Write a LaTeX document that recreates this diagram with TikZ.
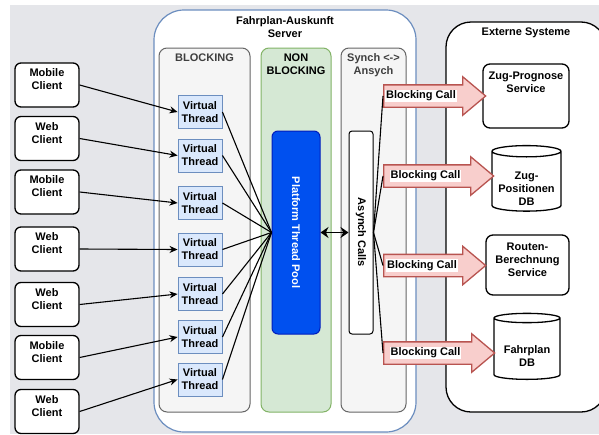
\documentclass[tikz,border=0pt]{standalone}
\usepackage{fontspec}
\setmainfont{Liberation Sans}
\usetikzlibrary{arrows.meta,positioning,shapes.geometric,shapes.arrows}

\definecolor{backgray}{HTML}{E5E6EA}
\definecolor{serverline}{HTML}{6C8EBF}
\definecolor{lanegray}{HTML}{F5F5F5}
\definecolor{laneline}{HTML}{666666}
\definecolor{titlegray}{HTML}{3F3F3F}
\definecolor{greenfill}{HTML}{D5E8D4}
\definecolor{greenline}{HTML}{82B366}
\definecolor{poolfill}{HTML}{0050EF}
\definecolor{poolline}{HTML}{001DBC}
\definecolor{vtfill}{HTML}{DAE8FC}
\definecolor{callfill}{HTML}{F8CECC}
\definecolor{callline}{HTML}{B85450}

\tikzstyle{client} = [
  draw,
  rectangle,
  rounded corners=6pt,
  line width=1.3pt,
  fill=white,
  minimum width=64pt,
  minimum height=44pt,
  text depth=11pt,
  align=center,
]
\tikzstyle{vthread} = [
  draw=serverline,
  fill=vtfill,
  rectangle,
  line width=0.9pt,
  minimum width=44pt,
  minimum height=33pt,
  inner sep=0pt,
  align=center,
]
\tikzstyle{lane} = [
  draw=laneline,
  fill=lanegray,
  rectangle,
  rounded corners=8pt,
  line width=1pt,
  minimum height=364pt,
]
\tikzstyle{lanetitle} = [
  inner sep=0pt,
  align=center,
]
\tikzstyle{flow} = [
  line width=1.1pt,
  -{Stealth[length=8pt,width=7pt]},
]
\tikzstyle{link} = [
  line width=1.1pt,
]
\tikzstyle{blockcall} = [
  single arrow,
  draw=callline,
  fill=callfill,
  line width=1.3pt,
  text height=21pt,
  text depth=0pt,
  inner xsep=0pt,
  inner ysep=0pt,
  single arrow head extend=8pt,
  single arrow tip angle=80,
  anchor=tail,
]
\tikzstyle{calltext} = [
  fill=white,
  inner sep=1pt,
]
\tikzstyle{extbox} = [
  draw,
  rectangle,
  rounded corners=7pt,
  line width=1.3pt,
  fill=white,
  align=center,
]
\tikzstyle{database} = [
  draw,
  cylinder,
  shape border rotate=90,
  aspect=0.2,
  inner sep=0pt,
  line width=1.3pt,
  fill=white,
  align=center,
]

\begin{document}
\begin{tikzpicture}[
    x=1pt,
    y=-1pt,
    font=\fontsize{11pt}{13pt}\selectfont\bfseries,
  ]
  \useasboundingbox (0,0) rectangle (599,434);
  \fill[backgray] (10,5) rectangle (599,434);

  % server with its three lanes
  \node[
    draw=serverline,
    fill=white,
    line width=1.2pt,
    rounded corners=30pt,
    minimum width=262pt,
    minimum height=422pt,
  ](server) at (285,221) {};
  \node[lanetitle, below=7pt of server.north]
    (servertitle) {Fahrplan-Auskunft\\Server};

  \node[lane, minimum width=91pt]
    (blocking) at (204.5,230) {};
  \node[lanetitle, text=titlegray, below=6pt of blocking.north]
    (blockingtitle) {BLOCKING};
  \node[lane, draw=greenline, fill=greenfill, minimum width=70pt]
    (nonblocking) at (296,230) {};
  \node[lanetitle, below=6pt of nonblocking.north]
    (nonblockingtitle) {NON\\BLOCKING};
  \node[lane, minimum width=65pt]
    (synch) at (373.5,230) {};
  \node[lanetitle, text=titlegray, below=6pt of synch.north]
    (synchtitle) {Synch <->\\Ansych};

  \node[
    draw=poolline,
    fill=poolfill,
    text=white,
    rounded corners=6pt,
    line width=1pt,
    rotate=-90,
    minimum width=203pt,
    minimum height=48pt,
  ](pool) at (296,232.5) {Platform Thread Pool};
  \node[
    draw,
    fill=white,
    rounded corners=3pt,
    line width=1pt,
    rotate=-90,
    minimum width=203pt,
    minimum height=24pt,
  ](async) at (361,232.5) {Asynch Calls};
  \draw[
    line width=1.8pt,
    {Stealth[length=8pt,width=11pt]}-{Stealth[length=8pt,width=11pt]},
  ] (pool.north) -- (async.south);

  % clients and their virtual threads
  \node[client] (clienta) at (47,85) {Mobile\\Client};
  \node[client] (clientb) at (47,138.5) {Web\\Client};
  \node[client] (clientc) at (47,192) {Mobile\\Client};
  \node[client] (clientd) at (47,249) {Web\\Client};
  \node[client] (cliente) at (47,304.5) {Web\\Client};
  \node[client] (clientf) at (47,357.5) {Mobile\\Client};
  \node[client] (clientg) at (47,411.5) {Web\\Client};

  \node[vthread] (vta) at (200,112) {Virtual\\Thread};
  \node[vthread] (vtb) at (200,155.5) {Virtual\\Thread};
  \node[vthread] (vtc) at (200,203) {Virtual\\Thread};
  \node[vthread] (vtd) at (200,249.5) {Virtual\\Thread};
  \node[vthread] (vte) at (200,294) {Virtual\\Thread};
  \node[vthread] (vtf) at (200,337) {Virtual\\Thread};
  \node[vthread] (vtg) at (200,379.5) {Virtual\\Thread};

  \draw[flow] (clienta.east) -- (vta.west);
  \draw[flow] (clientb.east) -- (vtb.west);
  \draw[flow] (clientc.east) -- (vtc.west);
  \draw[flow] (clientd.east) -- (vtd.west);
  \draw[flow] (cliente.east) -- (vte.west);
  \draw[flow] (clientf.east) -- (vtf.west);
  \draw[flow] (clientg.east) -- (vtg.west);

  \draw[link] (vta.east) -- (pool.south);
  \draw[link] (vtb.east) -- (pool.south);
  \draw[link] (vtc.east) -- (pool.south);
  \draw[link] (vtd.east) -- (pool.south);
  \draw[link] (vte.east) -- (pool.south);
  \draw[link] (vtf.east) -- (pool.south);
  \draw[link] (vtg.east) -- (pool.south);

  % external systems
  \node[
    draw,
    fill=white,
    line width=1.3pt,
    rounded corners=25pt,
    minimum width=160pt,
    minimum height=390pt,
  ](extern) at (526,217) {};
  \node[lanetitle, below=6pt of extern.north]
    (externtitle) {Externe Systeme};

  \node[extbox, minimum width=86pt, minimum height=64pt, text depth=28pt]
    (prognose) at (526,96) {Zug-Prognose\\Service};
  \node[database, minimum width=69pt, minimum height=63pt, text height=48pt]
    (positionen) at (526.5,181.5) {Zug-\\Positionen\\DB};
  \node[extbox, minimum width=83pt, minimum height=60pt, text depth=11pt]
    (routen) at (527.5,265) {Routen-\\Berechnung\\Service};
  \node[database, minimum width=66pt, minimum height=66pt, text height=35pt]
    (fahrplandb) at (527,349) {Fahrplan\\DB};

  \node[blockcall, minimum height=102pt] (calla) at (383,96) {};
  \node[blockcall, minimum height=110pt] (callb) at (383,176) {};
  \node[blockcall, minimum height=102pt] (callc) at (383,265.5) {};
  \node[blockcall, minimum height=111pt] (calld) at (383,353) {};
  \node[calltext] (texta) at (421,96) {Blocking Call};
  \node[calltext] (textb) at (425.5,176) {Blocking Call};
  \node[calltext] (textc) at (422,265.5) {Blocking Call};
  \node[calltext] (textd) at (425.5,353) {Blocking Call};

  \draw[link] (async.north) -- (calla.tail);
  \draw[link] (async.north) -- (callb.tail);
  \draw[link] (async.north) -- (callc.tail);
  \draw[link] (async.north) -- (calld.tail);
\end{tikzpicture}
\end{document}
